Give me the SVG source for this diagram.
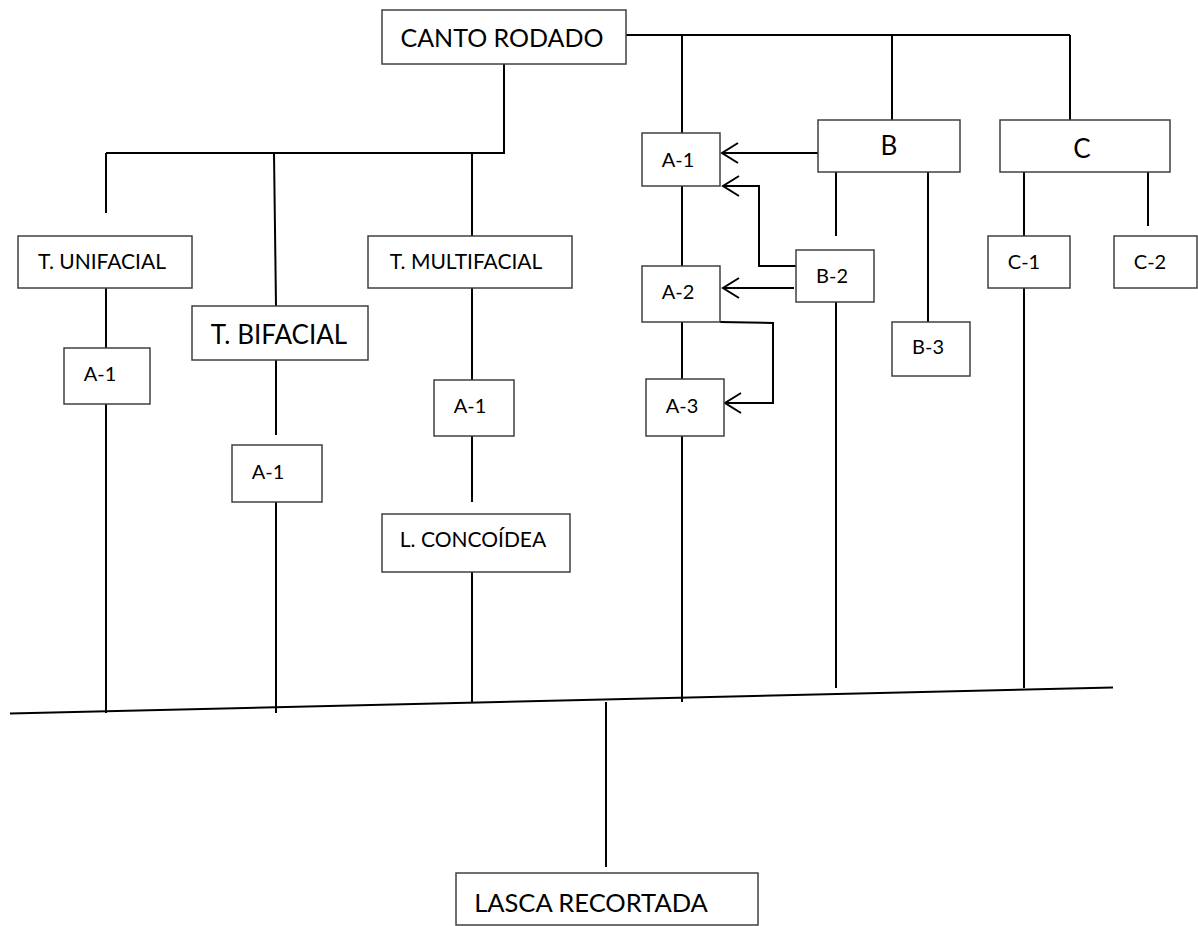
<svg xmlns="http://www.w3.org/2000/svg" width="1198" height="926" viewBox="0 0 1198 926">
  <style>
    .box { fill: #ffffff; stroke: #404040; stroke-width: 1.5; }
    .ln { fill: none; stroke: #000000; stroke-width: 2; }
    .lbl { font-family: Lato, "Liberation Sans", sans-serif; fill: #000000; text-anchor: middle; }
    .s { font-size: 20px; }
    .m { font-size: 21px; }
    .l { font-size: 26px; }
    .ctr { font-size: 25px; }
    .xl { font-size: 25.5px; }
  </style>
  <defs>
    <!-- open "V" arrowhead, tip on the line end -->
    <marker id="open" viewBox="0 0 20 24" refX="18" refY="12" markerWidth="20" markerHeight="24" markerUnits="userSpaceOnUse" orient="auto">
      <path d="M2,2 L18,12 L2,22" fill="none" stroke="#000" stroke-width="2"/>
    </marker>
  </defs>
  <rect width="1198" height="926" fill="#ffffff"/>

  <g id="connectors">
    <!-- top trunk to the right -->
    <path class="ln" d="M626,35 H1070"/>
    <path class="ln" d="M682,35 V133"/>
    <path class="ln" d="M892,35 V120"/>
    <path class="ln" d="M1070,35 V120"/>
    <!-- left branch from CANTO RODADO -->
    <path class="ln" d="M504,64 V153 H106"/>
    <path class="ln" d="M106,153 V213"/>
    <path class="ln" d="M274,153 L276,306"/>
    <path class="ln" d="M472,153 V236"/>
    <!-- T. UNIFACIAL column -->
    <path class="ln" d="M106,288 V348"/>
    <path class="ln" d="M106,404 V713"/>
    <!-- T. BIFACIAL column -->
    <path class="ln" d="M276,360 V435"/>
    <path class="ln" d="M276,502 V713"/>
    <!-- T. MULTIFACIAL column -->
    <path class="ln" d="M472,288 V380"/>
    <path class="ln" d="M472,436 V502"/>
    <path class="ln" d="M472,572 V702"/>
    <!-- A column -->
    <path class="ln" d="M682,186 V266"/>
    <path class="ln" d="M682,322 V379"/>
    <path class="ln" d="M682,436 V702"/>
    <!-- B column -->
    <path class="ln" d="M836,172 V236"/>
    <path class="ln" d="M836,302 V688"/>
    <path class="ln" d="M928,172 V322"/>
    <!-- C column -->
    <path class="ln" d="M1024,172 V236"/>
    <path class="ln" d="M1024,288 V688"/>
    <path class="ln" d="M1148,172 V226"/>
    <!-- arrows -->
    <path class="ln" d="M818,153 H722" marker-end="url(#open)"/>
    <path class="ln" d="M796,266 H759 V186 H723" marker-end="url(#open)"/>
    <path class="ln" d="M794,288 H723" marker-end="url(#open)"/>
    <path class="ln" d="M720,322 L773,323 V403 H725" marker-end="url(#open)"/>
    <!-- base line and outcome -->
    <path class="ln" d="M10,713.5 L1113,687.5" stroke-width="3"/>
    <path class="ln" d="M606,702 V867"/>
  </g>

  <g id="canto-rodado">
    <rect class="box" x="382" y="10" width="244" height="54"/>
    <text class="lbl ctr" x="502" y="47">CANTO RODADO</text>
  </g>
  <g id="t-unifacial">
    <rect class="box" x="18" y="236" width="174" height="52"/>
    <text class="lbl m" x="102" y="269">T. UNIFACIAL</text>
  </g>
  <g id="t-bifacial">
    <rect class="box" x="192" y="306" width="176" height="54"/>
    <text class="lbl l" x="279" y="344">T. BIFACIAL</text>
  </g>
  <g id="t-multifacial">
    <rect class="box" x="368" y="236" width="204" height="52"/>
    <text class="lbl m" x="466" y="269">T. MULTIFACIAL</text>
  </g>
  <g id="uni-a1">
    <rect class="box" x="64" y="348" width="86" height="56"/>
    <text class="lbl s" x="100" y="381">A-1</text>
  </g>
  <g id="bi-a1">
    <rect class="box" x="232" y="445" width="90" height="57"/>
    <text class="lbl s" x="268" y="479">A-1</text>
  </g>
  <g id="multi-a1">
    <rect class="box" x="434" y="380" width="80" height="56"/>
    <text class="lbl s" x="470" y="413">A-1</text>
  </g>
  <g id="l-concoidea">
    <rect class="box" x="382" y="514" width="188" height="58"/>
    <text class="lbl m" x="473" y="547">L. CONCOÍDEA</text>
  </g>
  <g id="a1">
    <rect class="box" x="642" y="133" width="78" height="53"/>
    <text class="lbl s" x="678" y="167">A-1</text>
  </g>
  <g id="a2">
    <rect class="box" x="642" y="266" width="78" height="56"/>
    <text class="lbl s" x="678" y="299">A-2</text>
  </g>
  <g id="a3">
    <rect class="box" x="646" y="379" width="78" height="57"/>
    <text class="lbl s" x="682" y="413">A-3</text>
  </g>
  <g id="b">
    <rect class="box" x="818" y="120" width="142" height="52"/>
    <text class="lbl l" x="889" y="155">B</text>
  </g>
  <g id="b2">
    <rect class="box" x="796" y="250" width="78" height="52"/>
    <text class="lbl s" x="832" y="283">B-2</text>
  </g>
  <g id="b3">
    <rect class="box" x="892" y="322" width="78" height="54"/>
    <text class="lbl s" x="928" y="354">B-3</text>
  </g>
  <g id="c">
    <rect class="box" x="1000" y="120" width="170" height="52"/>
    <text class="lbl l" x="1082" y="158">C</text>
  </g>
  <g id="c1">
    <rect class="box" x="988" y="236" width="82" height="52"/>
    <text class="lbl s" x="1024" y="269">C-1</text>
  </g>
  <g id="c2">
    <rect class="box" x="1114" y="236" width="83" height="52"/>
    <text class="lbl s" x="1150" y="269">C-2</text>
  </g>
  <g id="lasca-recortada">
    <rect class="box" x="456" y="873" width="302" height="52"/>
    <text class="lbl xl" x="591" y="912">LASCA RECORTADA</text>
  </g>
</svg>
